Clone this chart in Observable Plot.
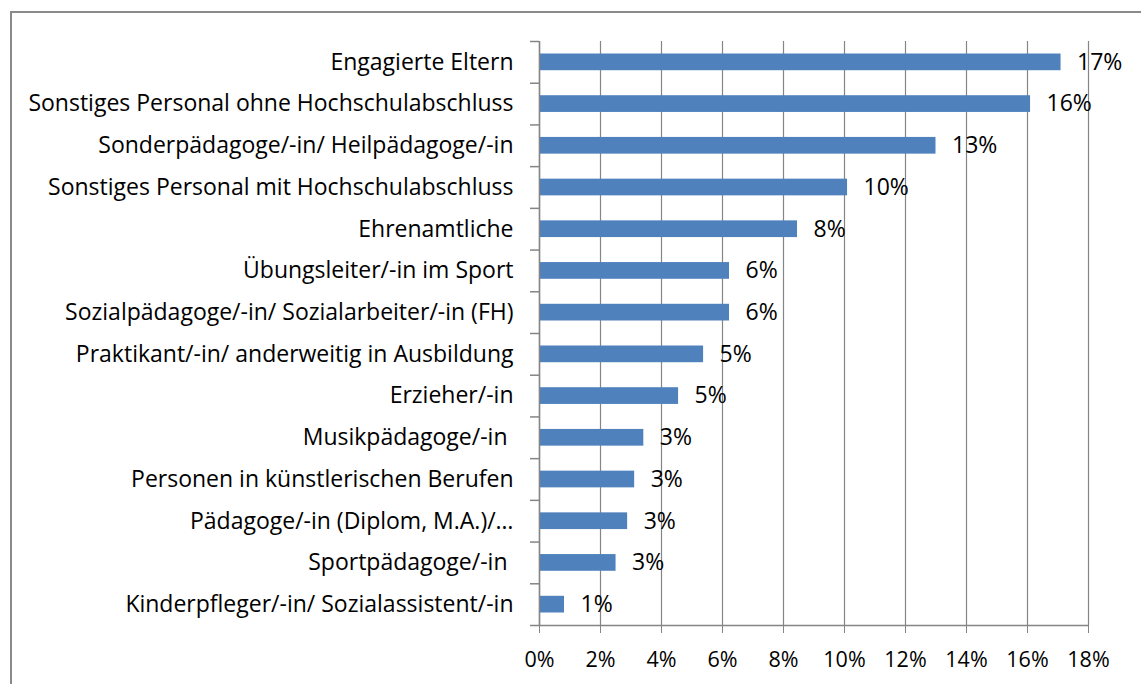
<!DOCTYPE html>
<html>
<head>
<meta charset="utf-8">
<script src="https://cdn.jsdelivr.net/npm/d3@7"></script>
<script src="https://cdn.jsdelivr.net/npm/@observablehq/plot@0.6"></script>
<style>
  html, body { margin: 0; padding: 0; background: #fff; }
  #wrap { position: relative; width: 1141px; height: 684px; overflow: hidden; }
  #border { position: absolute; left: 10px; top: 11px; width: 2000px; height: 2000px;
            border-left: 2px solid #8a8a8a; border-top: 2px solid #8a8a8a; z-index: 2; pointer-events: none; }
  #chart { position: absolute; left: 0; top: 0; z-index: 1; }
</style>
</head>
<body>
<div id="wrap"><div id="chart"></div><div id="border"></div></div>
<script>
const categories = [
  "Engagierte Eltern",
  "Sonstiges Personal ohne Hochschulabschluss",
  "Sonderpädagoge/-in/ Heilpädagoge/-in",
  "Sonstiges Personal mit Hochschulabschluss",
  "Ehrenamtliche",
  "Übungsleiter/-in im Sport",
  "Sozialpädagoge/-in/ Sozialarbeiter/-in (FH)",
  "Praktikant/-in/ anderweitig in Ausbildung",
  "Erzieher/-in",
  "Musikpädagoge/-in\u00a0",
  "Personen in künstlerischen Berufen",
  "Pädagoge/-in (Diplom, M.A.)/…",
  "Sportpädagoge/-in\u00a0",
  "Kinderpfleger/-in/ Sozialassistent/-in"
];
const values = [17.1, 16.1, 13.0, 10.1, 8.46, 6.23, 6.23, 5.38, 4.56, 3.42, 3.12, 2.89, 2.51, 0.82];
const valueLabels = ["17%", "16%", "13%", "10%", "8%", "6%", "6%", "5%", "5%", "3%", "3%", "3%", "3%", "1%"];
const xTicks = [0, 2, 4, 6, 8, 10, 12, 14, 16, 18];

const data = categories.map((c, i) => ({category: c, value: values[i], label: valueLabels[i]}));

const W = 1141, H = 684;
const mL = 539, mR = 53, mT = 41, mB = 59;
const bw = (H - mT - mB) / categories.length;
const grey = "#858585";

const chart = Plot.plot({
  width: W, height: H,
  marginLeft: mL, marginRight: mR, marginTop: mT, marginBottom: mB,
  x: {domain: [0, 18]},
  y: {domain: categories, padding: 0, round: false},
  style: {fontFamily: "'Open Sans', sans-serif", fontSize: "23px", color: "#000", background: "transparent"},
  marks: [
    Plot.ruleX(xTicks, {stroke: grey, strokeWidth: 1.2}),
    Plot.barX(data, {x: "value", y: "category", fill: "#4F81BD", insetTop: 12.5, insetBottom: 12.5}),
    Plot.text(data, {x: "value", y: "category", text: "label", textAnchor: "start", dx: 16, fontSize: 23, fill: "#000"}),
    Plot.axisX({ticks: xTicks, tickFormat: d => d + "%", tickSize: 8, tickPadding: 18, stroke: grey, fontSize: 21.5, label: null}),
    Plot.axisY({tickSize: 9, dy: -bw / 2, text: null, stroke: grey, strokeWidth: 1.5, label: null}),
    Plot.axisY({tickSize: 0, tickPadding: 26, fontSize: 23, label: null}),
    Plot.ruleX([0], {stroke: grey, strokeWidth: 1.5}),
    Plot.ruleY([categories[categories.length - 1]], {x1: -9 * 18 / (W - mL - mR), x2: 18, dy: bw / 2, stroke: grey, strokeWidth: 1.5})
  ]
});
document.getElementById("chart").appendChild(chart);
</script>
</body>
</html>
